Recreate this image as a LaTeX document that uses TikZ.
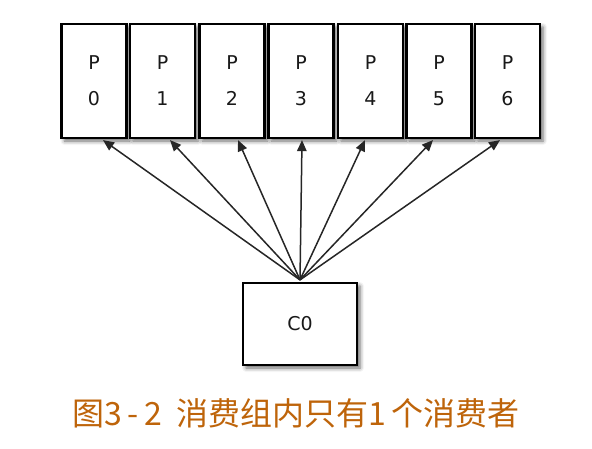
\documentclass[tikz,border=0pt]{standalone}
\usepackage{fontspec}
\setmainfont{DejaVu Sans}
\newfontfamily\cjk{Noto Sans CJK SC}
\usetikzlibrary{arrows.meta,shadows.blur}
\definecolor{capcol}{RGB}{190,100,10}
\tikzset{
  pbox/.style={draw=black, line width=2.2pt, fill=white, minimum width=65pt, minimum height=114pt,
    inner sep=0pt, align=center, font=\fontsize{19}{36}\selectfont, text=black!90,
    blur shadow={shadow xshift=3pt, shadow yshift=-3pt, shadow blur radius=4pt, shadow opacity=60}},
  cbox/.style={pbox, minimum width=114pt, minimum height=82pt},
  arr/.style={-{Triangle[length=11pt,width=9.5pt]}, line width=1.5pt, black!85},
}
\begin{document}
\begin{tikzpicture}[x=1pt,y=-1pt]
\useasboundingbox (0,0) rectangle (592,448);
\node[pbox] (P0) at (94,81) {P\\0};
\node[pbox] (P1) at (162.5,81) {P\\1};
\node[pbox] (P2) at (232,81) {P\\2};
\node[pbox] (P3) at (301,81) {P\\3};
\node[pbox] (P4) at (370.5,81) {P\\4};
\node[pbox] (P5) at (439,81) {P\\5};
\node[pbox] (P6) at (507.5,81) {P\\6};
\node[cbox] (C0) at (300,324) {C0};
\coordinate (src) at ([yshift=2pt]C0.north);
\draw[arr] (src) -- ([xshift=9pt,yshift=-1pt]P0.south);
\draw[arr] (src) -- ([xshift=7.5pt,yshift=-1pt]P1.south);
\draw[arr] (src) -- ([xshift=6pt,yshift=-1pt]P2.south);
\draw[arr] (src) -- ([xshift=1pt,yshift=-1pt]P3.south);
\draw[arr] (src) -- ([xshift=-5.5pt,yshift=-1pt]P4.south);
\draw[arr] (src) -- ([xshift=-6pt,yshift=-1pt]P5.south);
\draw[arr] (src) -- ([xshift=-7.5pt,yshift=-1pt]P6.south);
\node[font=\cjk\fontsize{32}{32}\selectfont, text=capcol, inner sep=0pt] (cap) at (296,413) {图3\,-\,2\hspace{14pt}消费组内只有1\,个消费者};
\end{tikzpicture}
\end{document}
